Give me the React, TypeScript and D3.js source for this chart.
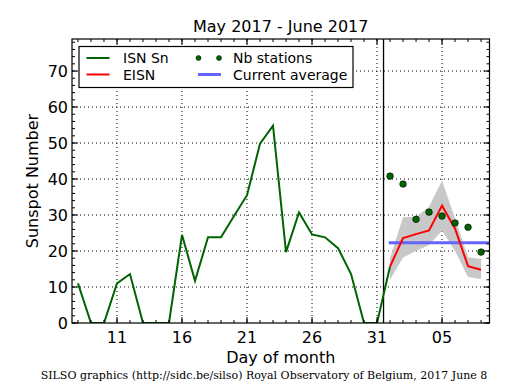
import React from "react";
import * as d3 from "d3";

const isnDays = [8,9,10,11,12,13,14,15,16,17,18,19,20,21,22,23,24,25,26,27,28,29,30,31,32];
const isnValues = [11,0,0,11,13.6,0,0,0,24.5,11.7,23.8,23.8,29.7,35.5,49.8,54.8,19.7,30.7,24.6,23.8,20.8,13.6,0,0,15.7];
const eisnDays = [32,33,34,35,36,37,38,39];
const eisnValues = [15.7,23.6,24.7,25.7,32.6,26.2,15.8,14.8];
const bandUpper = [18,29.4,29.5,32.3,39.6,29,18.3,17.8];
const bandLower = [12,18.2,20,21.7,25.6,20,12.8,12.2];
const stationValues = [40.8,38.6,28.8,30.8,29.7,27.8,26.6,19.7];
const currentAverage = 22.3;
const xTicks = [11,16,21,26,31,36];
const xTickLabels = ["11","16","21","26","31","05"];
const yTicks = [0,10,20,30,40,50,60,70];

const W = 515, H = 390;
const L = 72, R = 489.5, T = 39, B = 323;

export default function App() {
  const x = d3.scaleLinear().domain([7.54, 39.65]).range([L, R]);
  const y = d3.scaleLinear().domain([0, 78.9]).range([B, T]);
  const line = d3.line<[number, number]>().x(d => x(d[0])).y(d => y(d[1]));
  const area = d3.area<number>()
    .x((_, i) => x(eisnDays[i]))
    .y0((_, i) => y(bandLower[i]))
    .y1((_, i) => y(bandUpper[i]));
  const isnPts = isnDays.map((d, i) => [d, isnValues[i]] as [number, number]);
  const eisnPts = eisnDays.map((d, i) => [d, eisnValues[i]] as [number, number]);
  const minorX = d3.range(8, 40);
  const minorY = d3.range(0, 79, 2);
  const font = "DejaVu Sans, sans-serif";
  return (
    <svg width={W} height={H} style={{ position: "absolute", left: 0, top: 0, background: "#fff" }}>
      <rect x={0} y={0} width={W} height={H} fill="#fff" />
      <text x={(L + R) / 2} y={32} textAnchor="middle" fontFamily={font} fontSize={16}>May 2017 - June 2017</text>
      <defs>
        <clipPath id="pc"><rect x={L} y={T} width={R - L} height={B - T} /></clipPath>
      </defs>
      {xTicks.map(t => (
        <line key={"gx" + t} x1={x(t)} x2={x(t)} y1={T} y2={B} stroke="#000" strokeWidth={1} strokeDasharray="1,3" />
      ))}
      {yTicks.slice(1).map(t => (
        <line key={"gy" + t} x1={L} x2={R} y1={y(t)} y2={y(t)} stroke="#000" strokeWidth={1} strokeDasharray="1,3" />
      ))}
      <g clipPath="url(#pc)">
        <path d={area(eisnValues) || ""} fill="#c8c8c8" />
        <line x1={x(31.5)} x2={x(31.5)} y1={T} y2={B} stroke="#000" strokeWidth={1.3} />
        <line x1={x(31.9)} x2={R} y1={y(currentAverage)} y2={y(currentAverage)} stroke="#6464ff" strokeWidth={3} />
        <path d={line(isnPts) || ""} fill="none" stroke="#006400" strokeWidth={2} />
        <path d={line(eisnPts) || ""} fill="none" stroke="#ff0000" strokeWidth={2} />
        {eisnDays.map((d, i) => (
          <circle key={"s" + d} cx={x(d)} cy={y(stationValues[i])} r={3.3} fill="#006400" stroke="#000" strokeWidth={0.6} />
        ))}
      </g>
      {minorX.map(t => (
        <g key={"mx" + t}>
          <line x1={x(t)} x2={x(t)} y1={B} y2={B - 3} stroke="#000" />
          <line x1={x(t)} x2={x(t)} y1={T} y2={T + 3} stroke="#000" />
        </g>
      ))}
      {xTicks.map(t => (
        <g key={"tx" + t}>
          <line x1={x(t)} x2={x(t)} y1={B} y2={B - 6} stroke="#000" />
          <line x1={x(t)} x2={x(t)} y1={T} y2={T + 6} stroke="#000" />
        </g>
      ))}
      {minorY.map(t => (
        <g key={"my" + t}>
          <line x1={L} x2={L + 3} y1={y(t)} y2={y(t)} stroke="#000" />
          <line x1={R} x2={R - 3} y1={y(t)} y2={y(t)} stroke="#000" />
        </g>
      ))}
      {yTicks.map(t => (
        <g key={"ty" + t}>
          <line x1={L} x2={L + 6} y1={y(t)} y2={y(t)} stroke="#000" />
          <line x1={R} x2={R - 6} y1={y(t)} y2={y(t)} stroke="#000" />
          <text x={L - 4} y={y(t) + 5.5} textAnchor="end" fontFamily={font} fontSize={16}>{t}</text>
        </g>
      ))}
      {xTicks.map((t, i) => (
        <text key={"lx" + t} x={x(t)} y={B + 20} textAnchor="middle" fontFamily={font} fontSize={16}>{xTickLabels[i]}</text>
      ))}
      <rect x={L} y={T} width={R - L} height={B - T} fill="none" stroke="#000" strokeWidth={1.2} />
      <text x={(L + R) / 2} y={363} textAnchor="middle" fontFamily={font} fontSize={16}>Day of month</text>
      <text transform={`translate(38,${(T + B) / 2}) rotate(-90)`} textAnchor="middle" fontFamily={font} fontSize={16}>Sunspot Number</text>
      <rect x={79} y={46.5} width={274} height={41} fill="#fff" stroke="#000" strokeWidth={1.2} />
      <line x1={86.5} x2={109.5} y1={58} y2={58} stroke="#006400" strokeWidth={2} />
      <text x={123} y={63} fontFamily={font} fontSize={14}>ISN Sn</text>
      <line x1={86.5} x2={109.5} y1={74.5} y2={74.5} stroke="#ff0000" strokeWidth={2} />
      <text x={123} y={79.5} fontFamily={font} fontSize={14}>EISN</text>
      <circle cx={198.5} cy={58} r={2.5} fill="#006400" stroke="#000" strokeWidth={0.5} />
      <circle cx={219} cy={58} r={2.5} fill="#006400" stroke="#000" strokeWidth={0.5} />
      <text x={233} y={63} fontFamily={font} fontSize={14}>Nb stations</text>
      <line x1={198} x2={221} y1={74.5} y2={74.5} stroke="#6464ff" strokeWidth={3} />
      <text x={233} y={79.5} fontFamily={font} fontSize={14}>Current average</text>
      <text x={264} y={379} textAnchor="middle" fontFamily="DejaVu Serif, serif" fontSize={11}>SILSO graphics (http://sidc.be/silso) Royal Observatory of Belgium, 2017 June 8</text>
    </svg>
  );
}
